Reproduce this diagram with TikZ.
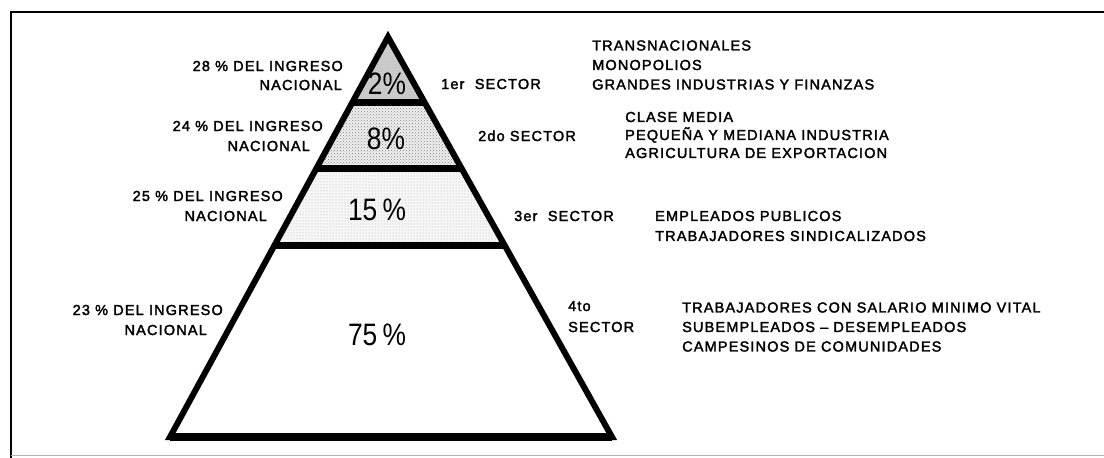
\documentclass[tikz,border=0pt]{standalone}
\usepackage{fontspec}
\setmainfont[LetterSpace=8,FakeBold=2.2]{Liberation Sans}
\newfontfamily\pctfont[FakeStretch=0.85]{Liberation Sans}
\usetikzlibrary{patterns}

\begin{document}
\begin{tikzpicture}[x=1pt,y=-1pt,
    lbl/.style={font=\fontsize{14.5}{19.5}\selectfont, inner sep=0pt},
    lst/.style={lbl, align=left, anchor=west},
    pct/.style={font=\pctfont\fontsize{31}{31}\selectfont, inner sep=0pt},
    bar/.style={line width=7pt},
    edge/.style={line width=6pt, line join=miter}]
  \useasboundingbox (0,0) rectangle (1104,458);

  % frame
  \draw[line width=1.5pt] (1110,12) -- (11,12) -- (11,460);
  \draw[gray!60, line width=0.8pt] (11,455) -- (1110,455);

  % pyramid
  \coordinate (top) at (388,37);
  \coordinate (bl) at (170,437);
  \coordinate (br) at (612,437);
  \begin{scope}
    \clip (top) -- (bl) -- (br) -- cycle;
    \fill[gray!40] (150,20) rectangle (650,102);
    \fill[pattern=dots, pattern color=gray!70] (150,20) rectangle (650,102);
    \fill[gray!12] (150,102) rectangle (650,168);
    \fill[pattern=crosshatch dots, pattern color=gray] (150,102) rectangle (650,168);
    \fill[gray!6] (150,168) rectangle (650,245);
    \fill[pattern=dots, pattern color=gray!70] (150,168) rectangle (650,245);
    \draw[bar] (150,102) -- (650,102);
    \draw[bar] (150,168) -- (650,168);
    \draw[bar] (150,245) -- (650,245);
  \end{scope}
  \draw[edge] (top) -- (bl) -- (br) -- cycle;
  \draw[line width=8pt] (bl) -- (br);

  \node[pct] (pA) at (387,84) {2\%};
  \node[pct] (pB) at (386,139) {8\%};
  \node[pct] (pC) at (377,210) {15\,\%};
  \node[pct] (pD) at (377,335) {75\,\%};

  % left: share of income
  \node[lbl, anchor=base east] (ingA) at (343,71) {28 \% DEL INGRESO};
  \node[lbl, anchor=base east] (nacA) at (342,90) {NACIONAL};
  \node[lbl, anchor=base east] (ingB) at (323,131) {24 \% DEL INGRESO};
  \node[lbl, anchor=base east] (nacB) at (310,151) {NACIONAL};
  \node[lbl, anchor=base east] (ingC) at (283,201) {25 \% DEL INGRESO};
  \node[lbl, anchor=base east] (nacC) at (267,221) {NACIONAL};
  \node[lbl, anchor=base east] (ingD) at (223,315) {23 \% DEL INGRESO};
  \node[lbl, anchor=base east] (nacD) at (207,335) {NACIONAL};

  % right: sectors
  \node[lbl, anchor=base west] (secA) at (441,89) {1er \ SECTOR};
  \node[lbl, anchor=base west] (secB) at (478,141) {2do SECTOR};
  \node[lbl, anchor=base west] (secC) at (514,221) {3er \ SECTOR};
  \node[lbl, anchor=base west] (secD) at (568,311) {4to};
  \node[lbl, anchor=base west] (secE) at (568,332) {SECTOR};

  \node[lst] (grpA) at (592,65)
    {TRANSNACIONALES\\MONOPOLIOS\\GRANDES INDUSTRIAS Y FINANZAS};
  \node[lst, font=\fontsize{14.5}{18}\selectfont] (grpB) at (625,135)
    {CLASE MEDIA\\PEQUEÑA Y MEDIANA INDUSTRIA\\AGRICULTURA DE EXPORTACION};
  \node[lst, font=\fontsize{14.5}{20}\selectfont] (grpC) at (655,226)
    {EMPLEADOS PUBLICOS\\TRABAJADORES SINDICALIZADOS};
  \node[lst] (grpD) at (682,327)
    {TRABAJADORES CON SALARIO MINIMO VITAL\\SUBEMPLEADOS -- DESEMPLEADOS\\CAMPESINOS DE COMUNIDADES};
\end{tikzpicture}
\end{document}
